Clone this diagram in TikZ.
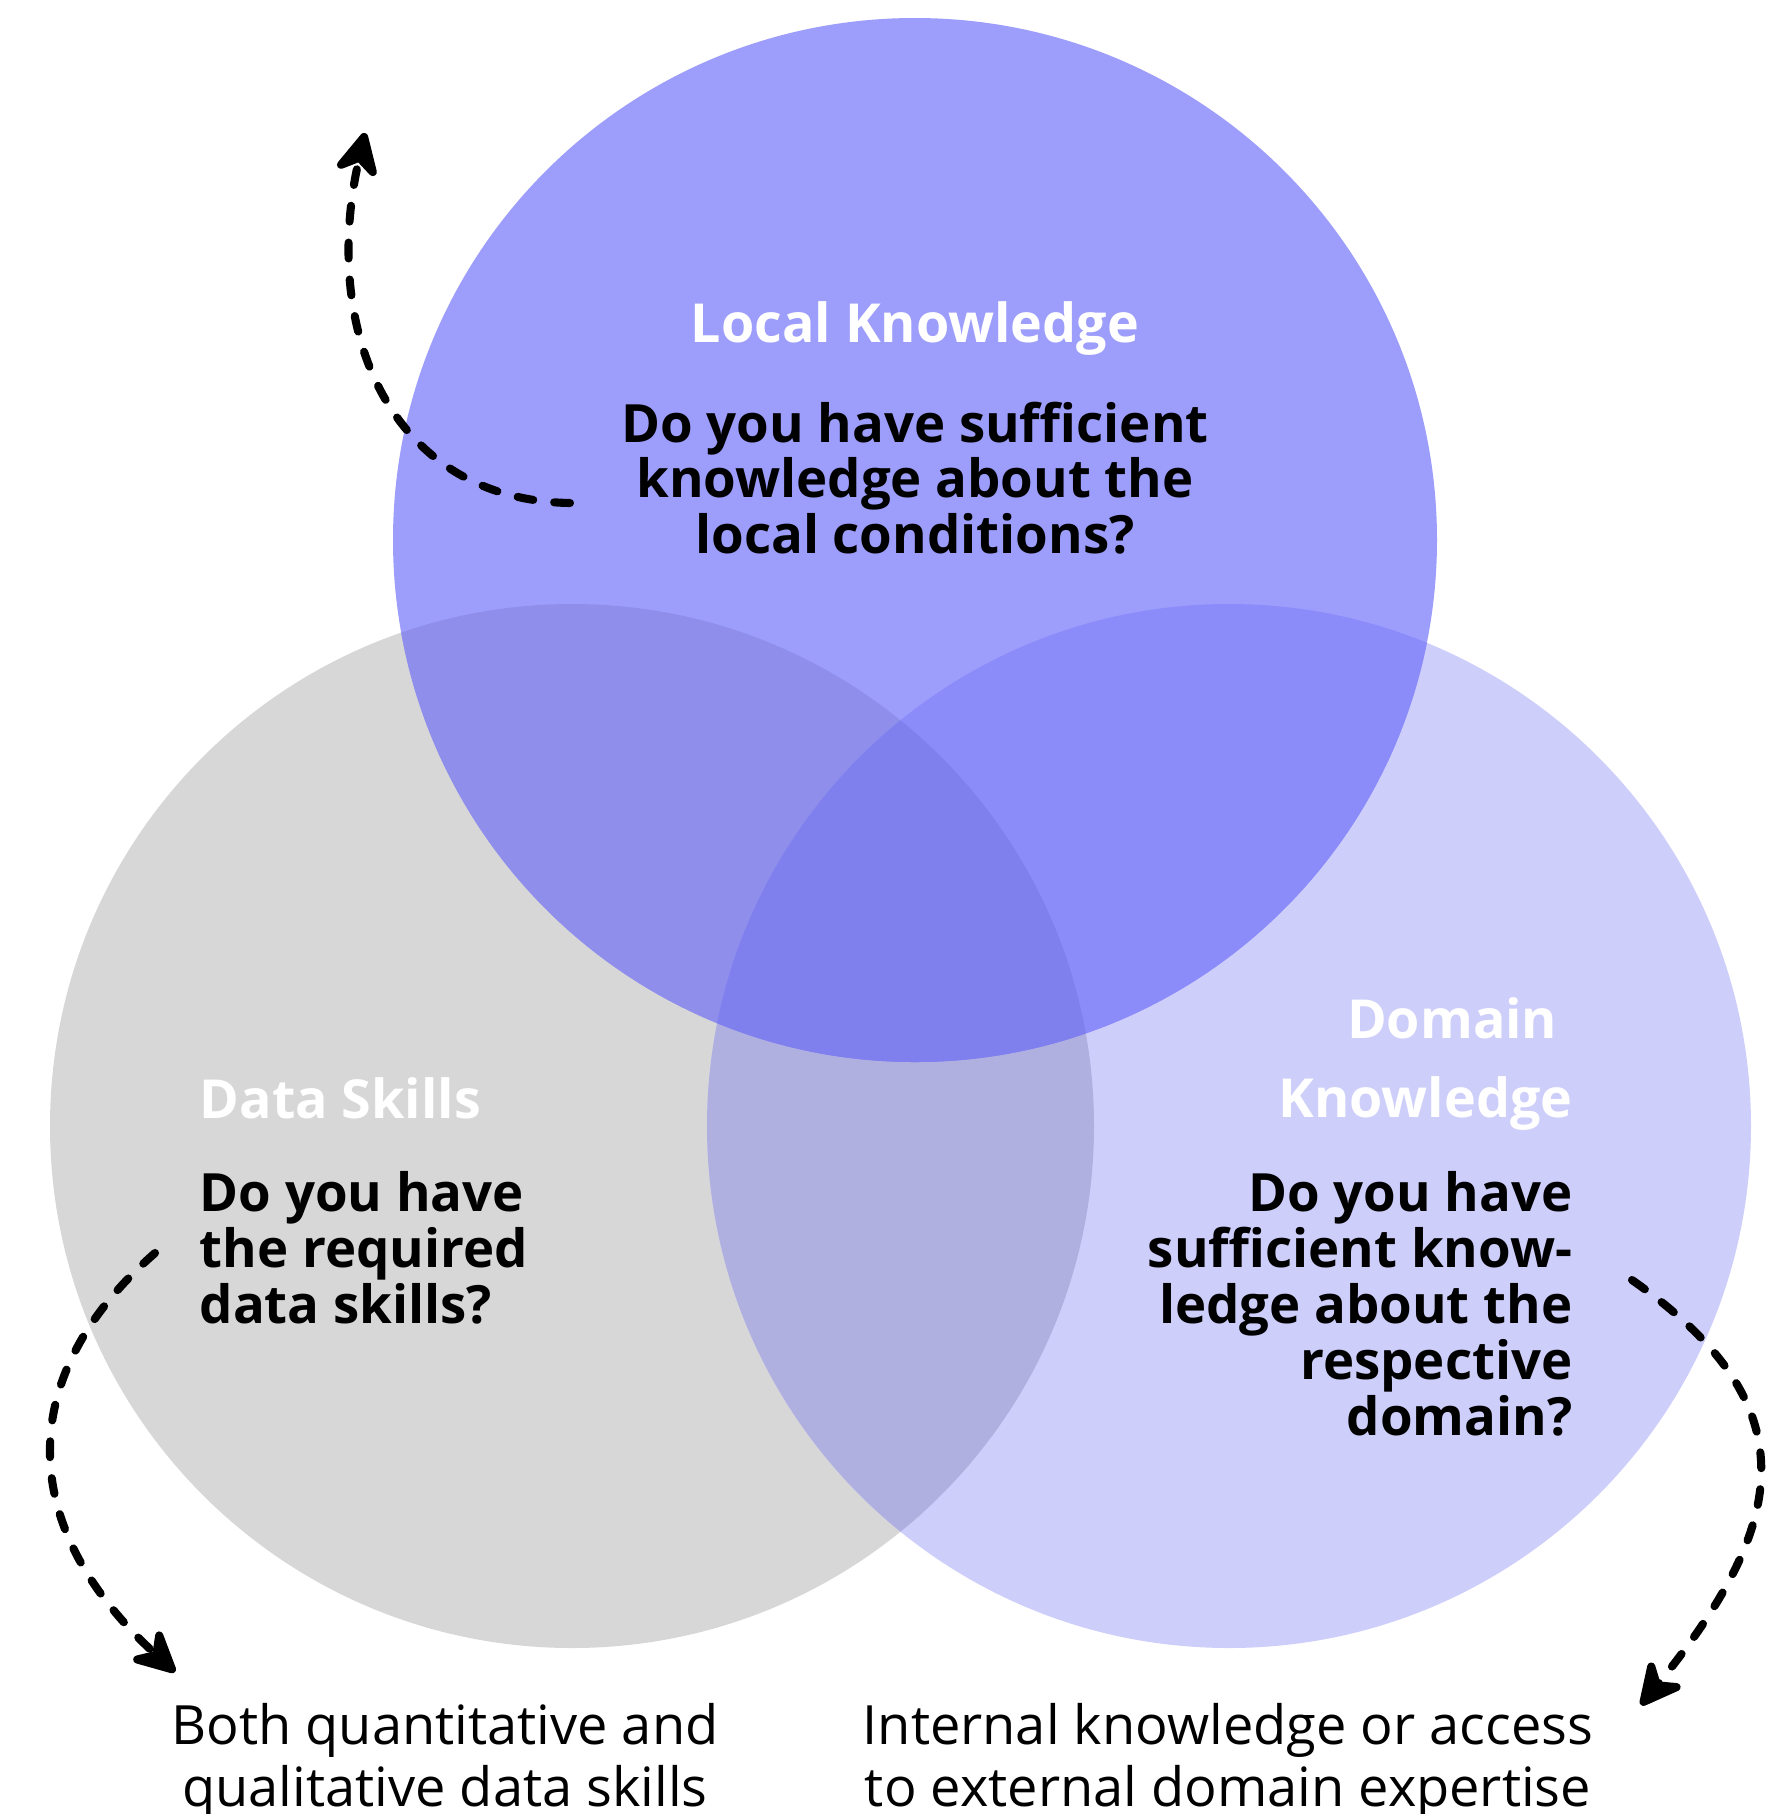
\documentclass[tikz,border=0pt]{standalone}
\usepackage{fontspec}
\setmainfont{Open Sans}
\usetikzlibrary{arrows.meta}
\definecolor{localblue}{HTML}{9D9DFC}
\definecolor{skillgray}{HTML}{D8D7D7}
\definecolor{domainblue}{HTML}{CECEFB}
\definecolor{localskill}{HTML}{8F8FEB}
\definecolor{localdomain}{HTML}{8B8BFA}
\definecolor{skilldomain}{HTML}{B0B0E0}
\definecolor{allthree}{HTML}{7F7FEE}

\begin{document}
\begin{tikzpicture}[x=0.01cm,y=0.01cm,
	title/.style={font=\bfseries\fontsize{15.3}{22.2}\selectfont,text=white,inner sep=0pt},
	question/.style={font=\bfseries\fontsize{15}{15.9}\selectfont,inner sep=0pt},
	caption/.style={font=\fontsize{15.4}{17.4}\selectfont,align=center,inner sep=0pt},
	hint/.style={line width=2.3pt,line cap=round,dash pattern=on 4.5pt off 6pt,
		-{Stealth[length=15pt,width=15pt,inset=5pt,round]}}]
	%\draw [help lines] (0,0) grid[step=100] (1785,-1814);
	\useasboundingbox (0,0) rectangle (1785,-1814);
	\coordinate (topc) at (915,-540);
	\coordinate (leftc) at (572,-1126);
	\coordinate (rightc) at (1229,-1126);
	% circles and their overlaps
	\fill [skillgray] (leftc) circle (522);
	\fill [domainblue] (rightc) circle (522);
	\fill [localblue] (topc) circle (522);
	\begin{scope}
		\clip (leftc) circle (522);
		\fill [skilldomain] (rightc) circle (522);
		\fill [localskill] (topc) circle (522);
	\end{scope}
	\begin{scope}
		\clip (rightc) circle (522);
		\fill [localdomain] (topc) circle (522);
	\end{scope}
	\begin{scope}
		\clip (leftc) circle (522);
		\clip (rightc) circle (522);
		\fill [allthree] (topc) circle (522);
	\end{scope}
	% texts
	\node [title, anchor=base] (local) at (915,-342) {Local Knowledge};
	\node [question, anchor=north, align=center] (localq) at (915,-401)
		{Do you have sufficient\\knowledge about the\\local conditions?};
	\node [title, anchor=base west] (skills) at (199,-1118) {Data Skills};
	\node [question, anchor=north west, align=left] (skillsq) at (199,-1171)
		{Do you have\\the required\\data skills?};
	\node [title, anchor=base east] (domain) at (1558,-1038) {Domain};
	\node [title, anchor=base east] (domain2) at (1573,-1117) {Knowledge};
	\node [question, anchor=north east, align=right] (domainq) at (1573,-1171)
		{Do you have\\sufficient know-\\ledge about the\\respective\\domain?};
	\node [caption, anchor=north] (skillsnote) at (445,-1703)
		{Both quantitative and\\qualitative data skills};
	\node [caption, anchor=north] (domainnote) at (1228,-1703)
		{Internal knowledge or access\\to external domain expertise};
	% dashed hints
	\coordinate (a1) at (570,-503);
	\coordinate (a2) at (365,-133);
	\coordinate (b1) at (155,-1253);
	\coordinate (b2) at (175,-1672);
	\coordinate (c1) at (1632,-1280);
	\coordinate (c2) at (1641,-1705);
	\draw [hint] (a1) .. controls (390,-500) and (320,-330) .. (a2);
	\draw [hint] (b1) .. controls (10,-1380) and (20,-1530) .. (b2);
	\draw [hint] (c1) .. controls (1812,-1406) and (1788,-1524) .. (c2);
\end{tikzpicture}
\end{document}
